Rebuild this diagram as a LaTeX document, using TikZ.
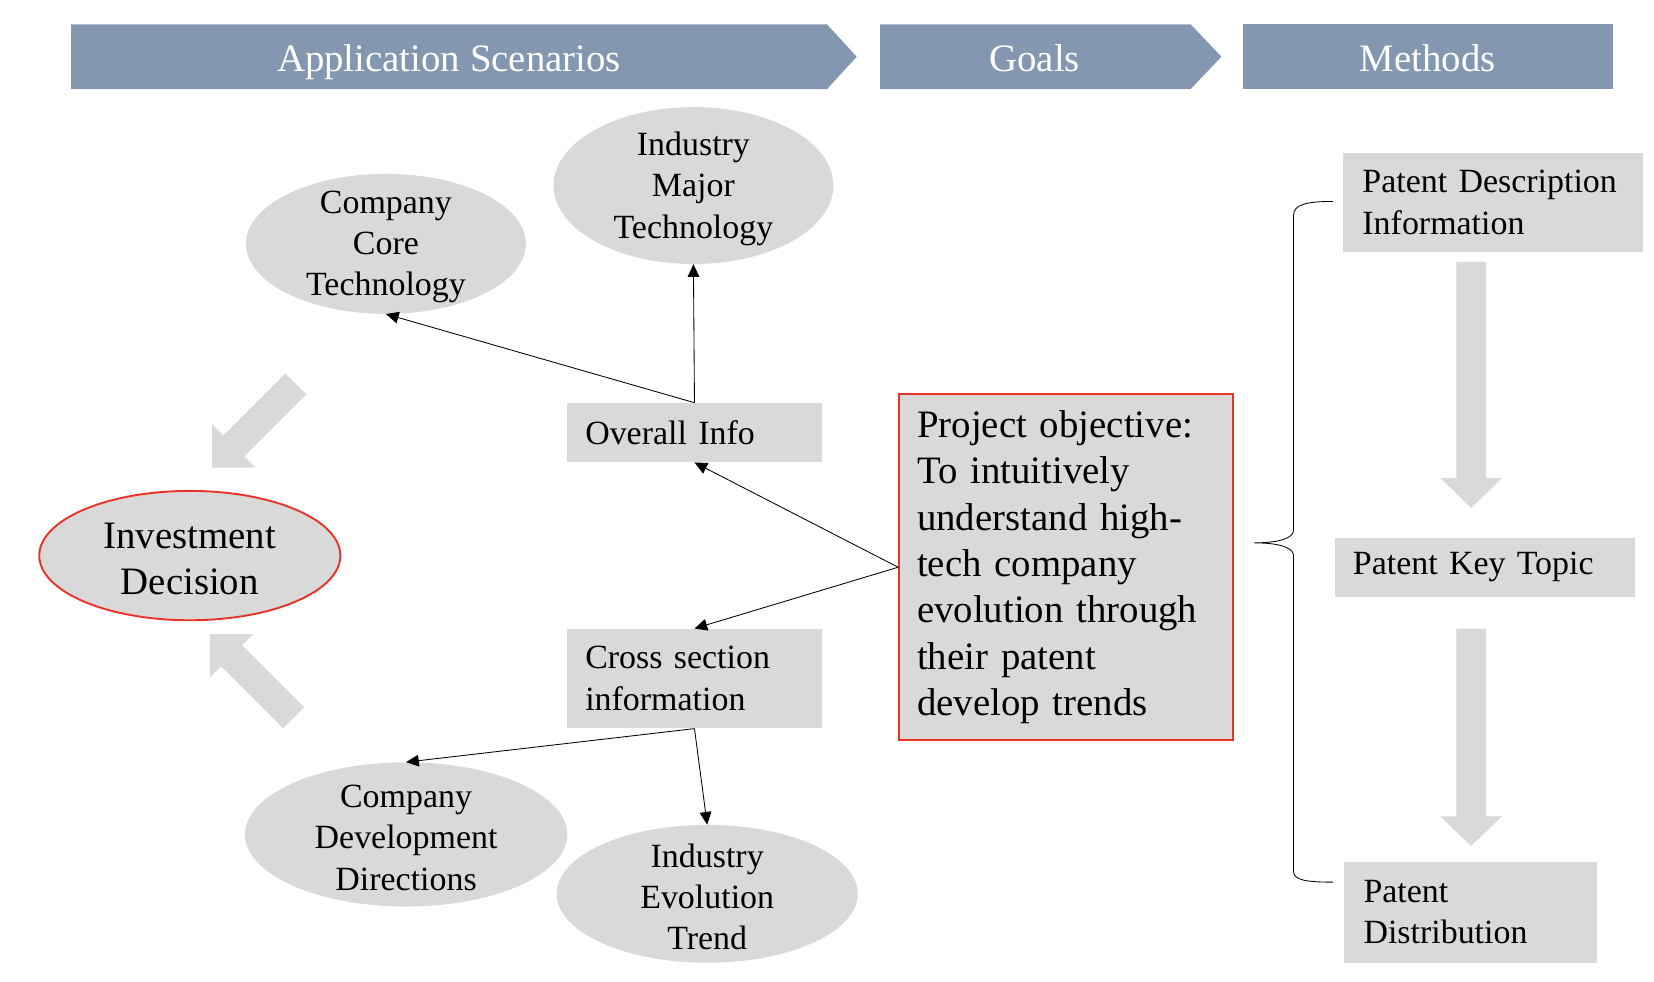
\documentclass[tikz,border=0pt]{standalone}
\usepackage{fontspec}
\setmainfont{Liberation Serif}
\usetikzlibrary{arrows.meta,shapes.geometric}
\definecolor{hdr}{RGB}{132,151,176}
\definecolor{boxgray}{RGB}{217,217,217}
\definecolor{redline}{RGB}{232,52,40}
\begin{document}
\begin{tikzpicture}[x=1pt,y=-1pt,
  bodyfont/.style={font=\fontsize{32}{39}\selectfont},
  bigfont/.style={font=\fontsize{36.6}{43.7}\selectfont},
  hdrtext/.style={bigfont, text=white, inner sep=0pt, anchor=base},
  ell/.style={ellipse, fill=boxgray, draw=none, inner sep=0pt},
  elltext/.style={bodyfont, align=center, inner sep=0pt},
  gbox/.style={rectangle, fill=boxgray, draw=none, bodyfont, align=left, inner ysep=0pt},
  redframe/.style={draw=redline, line width=1.8pt},
  conn/.style={draw=black, line width=0.8pt, -{Triangle[length=12pt,width=11pt]}},
  blockarrow/.style={fill=boxgray, draw=none},
  bracestyle/.style={draw=black, line width=0.8pt}
]
\useasboundingbox (0,0) rectangle (1560,926);

% header banners
\fill[hdr] (67,23) -- (780,23) -- (808,53.5) -- (780,84) -- (67,84) -- cycle;
\fill[hdr] (830,23) -- (1123,23) -- (1152,53.5) -- (1123,84) -- (830,84) -- cycle;
\fill[hdr] (1172,23) rectangle (1521,84);
\node[hdrtext] (h1) at (423.5,67) {Application Scenarios};
\node[hdrtext] (h2) at (976,67) {Goals};
\node[hdrtext] (h3) at (1346.5,67) {Methods};

% ellipses
\node[ell, minimum width=264pt, minimum height=132pt] (cct) at (364,230) {};
\node[elltext] (cctt) at (364,233) {Company\\Core\\Technology};
\node[ell, minimum width=264pt, minimum height=148pt] (imt) at (654,175) {};
\node[elltext] (imtt) at (654,178) {Industry\\Major\\Technology};
\node[ell, redframe, minimum width=284pt, minimum height=122pt] (inv) at (179,524) {};
\node[elltext, bigfont] (invt) at (179,527) {Investment\\Decision};
\node[ell, minimum width=304pt, minimum height=136pt] (cdd) at (383,787) {};
\node[elltext] (cddt) at (383,790) {Company\\Development\\Directions};
\node[ell, minimum width=284pt, minimum height=130pt] (iet) at (667,843) {};
\node[elltext] (iett) at (667,846) {Industry\\Evolution\\Trend};

% rectangles
\node[gbox, minimum width=240pt, minimum height=56pt, text width=206pt, inner xsep=17pt] (oi) at (655,408) {Overall Info};
\node[gbox, minimum width=240pt, minimum height=94pt, text width=206pt, inner xsep=17pt] (cs) at (655,640) {Cross section\\information};
\node[gbox, redframe, bigfont, minimum width=315pt, minimum height=326pt, text width=281pt, inner xsep=17pt] (proj) at (1005.5,535) {Project objective:\\To intuitively\\understand high-\\tech company\\evolution through\\their patent\\develop trends};
\node[gbox, minimum width=283pt, minimum height=94pt, text width=247pt, inner xsep=18pt] (pdi) at (1408.5,191) {Patent Description\\Information};
\node[gbox, minimum width=283pt, minimum height=56pt, text width=249pt, inner xsep=17pt] (pkt) at (1400.5,535) {Patent Key Topic};
\node[gbox, minimum width=238pt, minimum height=95pt, text width=202pt, inner xsep=18pt] (pdist) at (1387,860.5) {Patent\\Distribution};

% connectors
\draw[conn] (oi.north) -- (cct.south);
\draw[conn] (oi.north) -- (imt.south);
\draw[conn] (proj.west) -- (oi.south);
\draw[conn] (proj.west) -- (cs.north);
\draw[conn] (cs.south) -- (cdd.north);
\draw[conn] (cs.south) -- (iet.north);

% block arrows (methods column)
\fill[blockarrow] (1373.5,247) -- (1373.5,451) -- (1358.5,451) -- (1387.5,479) -- (1416.5,451) -- (1401.5,451) -- (1401.5,247) -- cycle;
\fill[blockarrow] (1373.5,593) -- (1373.5,770) -- (1358.5,770) -- (1387.5,798) -- (1416.5,770) -- (1401.5,770) -- (1401.5,593) -- cycle;

% block arrows toward investment decision
\fill[blockarrow] (288.9,371.9) -- (230.4,430.4) -- (241,441) -- (200,441) -- (200,400) -- (210.6,410.6) -- (269.1,352.1) -- cycle;
\fill[blockarrow] (286.9,667.1) -- (228.4,608.6) -- (239,598) -- (198,598) -- (198,639) -- (208.6,628.4) -- (267.1,686.9) -- cycle;

% brace
\draw[bracestyle] (1257,190) .. controls (1232,190) and (1220,193) .. (1220,203) -- (1220,500)
  .. controls (1220,508) and (1205,512) .. (1183,512)
  .. controls (1205,512) and (1220,516) .. (1220,524) -- (1220,822)
  .. controls (1220,830) and (1232,832) .. (1257,832);
\end{tikzpicture}
\end{document}
